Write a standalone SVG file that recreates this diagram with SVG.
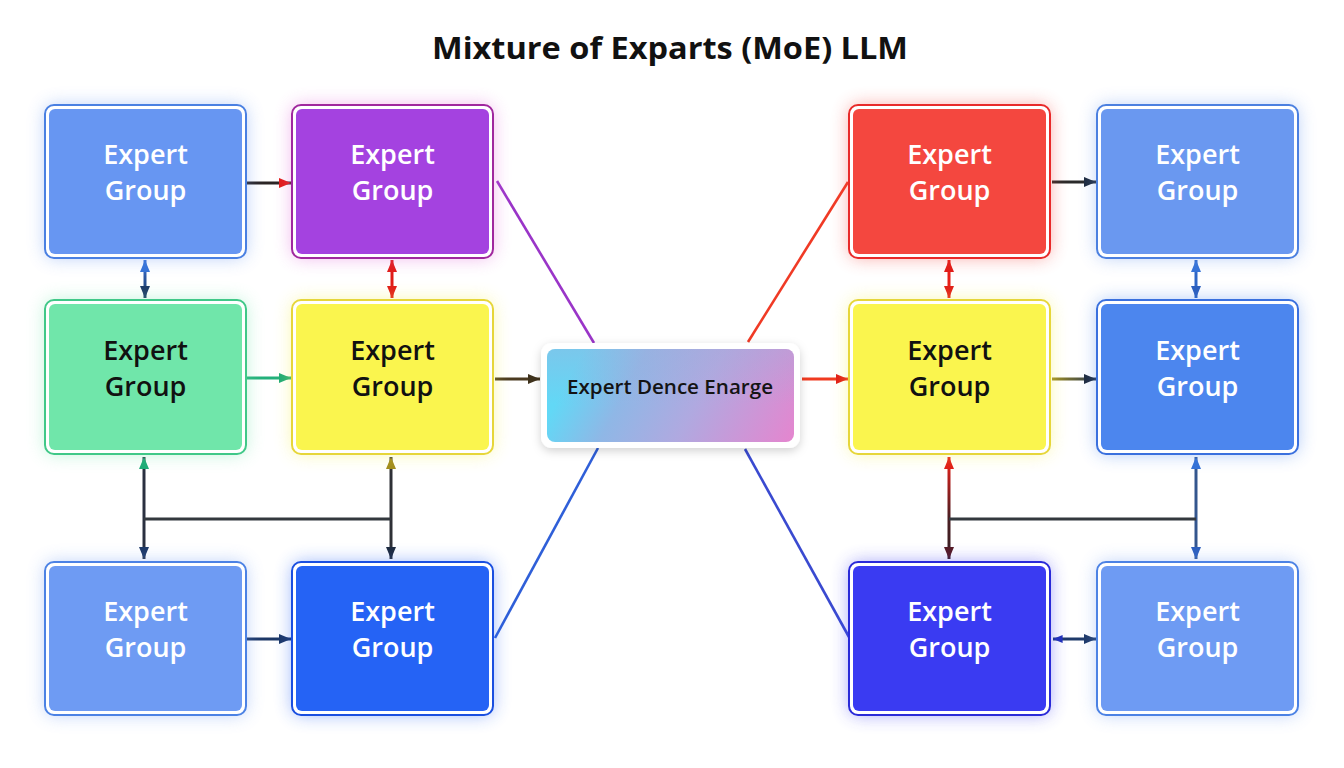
<svg xmlns="http://www.w3.org/2000/svg" width="1344" height="768" viewBox="0 0 1344 768">
<defs>
<style>
.lbl{font-family:"Open Sans","Noto Sans","Liberation Sans",sans-serif;font-weight:600;font-size:27px;text-anchor:middle}
.w{fill:#ffffff}.k{fill:#111111}
.frame{fill:#ffffff;stroke-width:2}
.glow{opacity:0.45;filter:url(#blur)}
.c{fill:none;stroke-width:3;stroke-linecap:butt}
.d{fill:none;stroke-width:2.6}
</style>
<filter id="blur" x="-30%" y="-30%" width="160%" height="160%"><feGaussianBlur stdDeviation="9"/></filter>
<filter id="shadow" x="-20%" y="-30%" width="140%" height="160%"><feDropShadow dx="0" dy="3" stdDeviation="5" flood-color="#000" flood-opacity="0.18"/></filter>
<linearGradient id="cg" x1="0" y1="0.75" x2="1" y2="0.95">
<stop offset="0" stop-color="#62D8F6"/><stop offset="0.25" stop-color="#8FB7E6"/><stop offset="0.55" stop-color="#B0A9E0"/><stop offset="1" stop-color="#E486CF"/>
</linearGradient>
<linearGradient id="cgv" x1="0" y1="0" x2="0" y2="1">
<stop offset="0" stop-color="#A8A8D8" stop-opacity="0.35"/><stop offset="0.6" stop-color="#A8A8D8" stop-opacity="0"/>
</linearGradient>
<linearGradient id="gBlueNavy" gradientUnits="userSpaceOnUse" x1="145" y1="262" x2="145" y2="296"><stop offset="0" stop-color="#3A72D6"/><stop offset="1" stop-color="#1B3766"/></linearGradient>
<linearGradient id="gRedDark" gradientUnits="userSpaceOnUse" x1="949" y1="460" x2="949" y2="556"><stop offset="0" stop-color="#E8201A"/><stop offset="0.6" stop-color="#4A1E22"/><stop offset="1" stop-color="#3A1E22"/></linearGradient>
<linearGradient id="gOlive" gradientUnits="userSpaceOnUse" x1="1052" y1="379" x2="1096" y2="379"><stop offset="0" stop-color="#9A8A22"/><stop offset="1" stop-color="#2C3A52"/></linearGradient>
<marker id="aRed" viewBox="0 0 12 10" refX="12" refY="5" markerWidth="12" markerHeight="10" markerUnits="userSpaceOnUse" orient="auto-start-reverse"><path d="M0,0 L12,5 L0,10 z" fill="#E01B17"/></marker>
<marker id="aDark" viewBox="0 0 12 10" refX="12" refY="5" markerWidth="12" markerHeight="10" markerUnits="userSpaceOnUse" orient="auto-start-reverse"><path d="M0,0 L12,5 L0,10 z" fill="#1E2A3C"/></marker>
<marker id="aNavy" viewBox="0 0 12 10" refX="12" refY="5" markerWidth="12" markerHeight="10" markerUnits="userSpaceOnUse" orient="auto-start-reverse"><path d="M0,0 L12,5 L0,10 z" fill="#1C3766"/></marker>
<marker id="aBlue" viewBox="0 0 12 10" refX="12" refY="5" markerWidth="12" markerHeight="10" markerUnits="userSpaceOnUse" orient="auto-start-reverse"><path d="M0,0 L12,5 L0,10 z" fill="#3572D6"/></marker>
<marker id="aBlue2" viewBox="0 0 12 10" refX="12" refY="5" markerWidth="12" markerHeight="10" markerUnits="userSpaceOnUse" orient="auto-start-reverse"><path d="M0,0 L12,5 L0,10 z" fill="#2C5EBC"/></marker>
<marker id="aGreen" viewBox="0 0 12 10" refX="12" refY="5" markerWidth="12" markerHeight="10" markerUnits="userSpaceOnUse" orient="auto-start-reverse"><path d="M0,0 L12,5 L0,10 z" fill="#1DAA76"/></marker>
<marker id="aOlive" viewBox="0 0 12 10" refX="12" refY="5" markerWidth="12" markerHeight="10" markerUnits="userSpaceOnUse" orient="auto-start-reverse"><path d="M0,0 L12,5 L0,10 z" fill="#A08A1C"/></marker>
<marker id="aMaroon" viewBox="0 0 12 10" refX="12" refY="5" markerWidth="12" markerHeight="10" markerUnits="userSpaceOnUse" orient="auto-start-reverse"><path d="M0,0 L12,5 L0,10 z" fill="#561A22"/></marker>
<marker id="aBrown" viewBox="0 0 12 10" refX="12" refY="5" markerWidth="12" markerHeight="10" markerUnits="userSpaceOnUse" orient="auto-start-reverse"><path d="M0,0 L12,5 L0,10 z" fill="#3E321C"/></marker>
<marker id="aIndigo" viewBox="0 0 12 10" refX="12" refY="5" markerWidth="10" markerHeight="8" markerUnits="userSpaceOnUse" orient="auto-start-reverse"><path d="M0,0 L12,5 L0,10 z" fill="#2232B8"/></marker>
</defs>
<rect width="1344" height="768" fill="#ffffff"/>
<text x="670" y="59" font-family="'Open Sans','Noto Sans','Liberation Sans',sans-serif" font-weight="700" font-size="31" text-anchor="middle" fill="#111" textLength="476" lengthAdjust="spacingAndGlyphs">Mixture of Exparts (MoE) LLM</text>

<g id="connectors">
<line class="c" x1="247" y1="183" x2="291" y2="183" stroke="#2A2424" marker-end="url(#aRed)"/>
<line class="c" x1="145" y1="260" x2="145" y2="298" stroke="url(#gBlueNavy)" marker-start="url(#aBlue)" marker-end="url(#aNavy)"/>
<line class="c" x1="392" y1="260" x2="392" y2="298" stroke="#E01B17" marker-start="url(#aRed)" marker-end="url(#aRed)"/>
<line class="c" x1="247" y1="378" x2="291" y2="378" stroke="#22B07A" marker-end="url(#aGreen)"/>
<line class="c" x1="495" y1="379" x2="540" y2="379" stroke="#4A3A20" marker-end="url(#aBrown)"/>
<line class="d" x1="497" y1="181" x2="594" y2="343" stroke="#9A35C8"/>
<line class="d" x1="598" y1="448" x2="495" y2="638" stroke="#2F5FD8"/>
<line class="c" x1="144" y1="457" x2="144" y2="559" stroke="#2A3040" marker-start="url(#aGreen)" marker-end="url(#aNavy)"/>
<line class="c" x1="391" y1="457" x2="391" y2="559" stroke="#2E3036" marker-start="url(#aOlive)" marker-end="url(#aDark)"/>
<line class="c" x1="144" y1="519" x2="391" y2="519" stroke="#33383E"/>
<line class="c" x1="247" y1="639" x2="291" y2="639" stroke="#1C3766" marker-end="url(#aNavy)"/>

<line class="d" x1="748" y1="342" x2="848" y2="182" stroke="#F03A25"/>
<line class="c" x1="802" y1="379" x2="848" y2="379" stroke="#F03A20" marker-end="url(#aRed)"/>
<line class="d" x1="745" y1="449" x2="849" y2="637" stroke="#3A4AD0"/>
<line class="c" x1="1052" y1="182" x2="1096" y2="182" stroke="#2A2A2A" marker-end="url(#aDark)"/>
<line class="c" x1="949" y1="260" x2="949" y2="298" stroke="#E81E18" marker-start="url(#aRed)" marker-end="url(#aRed)"/>
<line class="c" x1="1196" y1="260" x2="1196" y2="298" stroke="#2F66C6" marker-start="url(#aBlue)" marker-end="url(#aBlue2)"/>
<line class="c" x1="1052" y1="379" x2="1096" y2="379" stroke="url(#gOlive)" marker-end="url(#aDark)"/>
<line class="c" x1="949" y1="457" x2="949" y2="559" stroke="url(#gRedDark)" marker-start="url(#aRed)" marker-end="url(#aMaroon)"/>
<line class="c" x1="1196" y1="457" x2="1196" y2="559" stroke="#34568E" marker-start="url(#aBlue)" marker-end="url(#aBlue2)"/>
<line class="c" x1="949" y1="519" x2="1196" y2="519" stroke="#33383E"/>
<line class="c" x1="1053" y1="639" x2="1096" y2="639" stroke="#1E3A6A" marker-start="url(#aIndigo)" marker-end="url(#aNavy)"/>
</g>

<g id="n-l1r1">
<rect class="glow" x="45" y="105" width="201" height="153" rx="9" fill="#6796F2"/>
<rect class="frame" x="45" y="105" width="201" height="153" rx="9" stroke="#4A80E2"/>
<rect x="49" y="109" width="193" height="145" rx="6" fill="#6796F2"/>
<text class="lbl w" x="145.5" y="164">Expert</text><text class="lbl w" x="145.5" y="200">Group</text>
</g>
<g id="n-l2r1">
<rect class="glow" x="292" y="105" width="201" height="153" rx="9" fill="#E060D8"/>
<rect class="frame" x="292" y="105" width="201" height="153" rx="9" stroke="#A0289E"/>
<rect x="296" y="109" width="193" height="145" rx="6" fill="#A442E0"/>
<text class="lbl w" x="392.5" y="164">Expert</text><text class="lbl w" x="392.5" y="200">Group</text>
</g>
<g id="n-l1r2">
<rect class="glow" x="45" y="300" width="201" height="154" rx="9" fill="#70E6AA"/>
<rect class="frame" x="45" y="300" width="201" height="154" rx="9" stroke="#40C888"/>
<rect x="49" y="304" width="193" height="146" rx="6" fill="#70E6AA"/>
<text class="lbl k" x="145.5" y="360">Expert</text><text class="lbl k" x="145.5" y="396">Group</text>
</g>
<g id="n-l2r2">
<rect class="glow" x="292" y="300" width="201" height="154" rx="9" fill="#F5F050"/>
<rect class="frame" x="292" y="300" width="201" height="154" rx="9" stroke="#E6D63A"/>
<rect x="296" y="304" width="193" height="146" rx="6" fill="#FAF54E"/>
<text class="lbl k" x="392.5" y="360">Expert</text><text class="lbl k" x="392.5" y="396">Group</text>
</g>
<g id="n-l1r3">
<rect class="glow" x="45" y="562" width="201" height="153" rx="9" fill="#6E9BF3"/>
<rect class="frame" x="45" y="562" width="201" height="153" rx="9" stroke="#4C82E4"/>
<rect x="49" y="566" width="193" height="145" rx="6" fill="#6E9BF3"/>
<text class="lbl w" x="145.5" y="621">Expert</text><text class="lbl w" x="145.5" y="657">Group</text>
</g>
<g id="n-l2r3">
<rect class="glow" x="292" y="562" width="201" height="153" rx="9" fill="#2563F5"/>
<rect class="frame" x="292" y="562" width="201" height="153" rx="9" stroke="#1A4FE0"/>
<rect x="296" y="566" width="193" height="145" rx="6" fill="#2563F5"/>
<text class="lbl w" x="392.5" y="621">Expert</text><text class="lbl w" x="392.5" y="657">Group</text>
</g>

<g id="n-center">
<rect x="541" y="343" width="259" height="105" rx="11" fill="#ffffff" filter="url(#shadow)"/>
<rect x="547" y="349" width="247" height="93" rx="8" fill="url(#cg)"/>
<rect x="547" y="349" width="247" height="93" rx="8" fill="url(#cgv)"/>
<text x="670" y="394" font-family="'Open Sans','Noto Sans','Liberation Sans',sans-serif" font-weight="600" font-size="19" text-anchor="middle" fill="#141414" textLength="206" lengthAdjust="spacingAndGlyphs">Expert Dence Enarge</text>
</g>

<g id="n-r1r1">
<rect class="glow" x="849" y="105" width="201" height="153" rx="9" fill="#F4473F"/>
<rect class="frame" x="849" y="105" width="201" height="153" rx="9" stroke="#E82A2A"/>
<rect x="853" y="109" width="193" height="145" rx="6" fill="#F4473F"/>
<text class="lbl w" x="949.5" y="164">Expert</text><text class="lbl w" x="949.5" y="200">Group</text>
</g>
<g id="n-r2r1">
<rect class="glow" x="1097" y="105" width="201" height="153" rx="9" fill="#6A98F0"/>
<rect class="frame" x="1097" y="105" width="201" height="153" rx="9" stroke="#4C80E0"/>
<rect x="1101" y="109" width="193" height="145" rx="6" fill="#6A98F0"/>
<text class="lbl w" x="1197.5" y="164">Expert</text><text class="lbl w" x="1197.5" y="200">Group</text>
</g>
<g id="n-r1r2">
<rect class="glow" x="849" y="300" width="201" height="154" rx="9" fill="#F5F050"/>
<rect class="frame" x="849" y="300" width="201" height="154" rx="9" stroke="#E6D63A"/>
<rect x="853" y="304" width="193" height="146" rx="6" fill="#FAF54E"/>
<text class="lbl k" x="949.5" y="360">Expert</text><text class="lbl k" x="949.5" y="396">Group</text>
</g>
<g id="n-r2r2">
<rect class="glow" x="1097" y="300" width="201" height="154" rx="9" fill="#4C86EE"/>
<rect class="frame" x="1097" y="300" width="201" height="154" rx="9" stroke="#3A70DE"/>
<rect x="1101" y="304" width="193" height="146" rx="6" fill="#4C86EE"/>
<text class="lbl w" x="1197.5" y="360">Expert</text><text class="lbl w" x="1197.5" y="396">Group</text>
</g>
<g id="n-r1r3">
<rect class="glow" x="849" y="562" width="201" height="153" rx="9" fill="#3A3BF2"/>
<rect class="frame" x="849" y="562" width="201" height="153" rx="9" stroke="#2A2AD8"/>
<rect x="853" y="566" width="193" height="145" rx="6" fill="#3A3BF2"/>
<text class="lbl w" x="949.5" y="621">Expert</text><text class="lbl w" x="949.5" y="657">Group</text>
</g>
<g id="n-r2r3">
<rect class="glow" x="1097" y="562" width="201" height="153" rx="9" fill="#6E9BF3"/>
<rect class="frame" x="1097" y="562" width="201" height="153" rx="9" stroke="#4C82E4"/>
<rect x="1101" y="566" width="193" height="145" rx="6" fill="#6E9BF3"/>
<text class="lbl w" x="1197.5" y="621">Expert</text><text class="lbl w" x="1197.5" y="657">Group</text>
</g>
</svg>
